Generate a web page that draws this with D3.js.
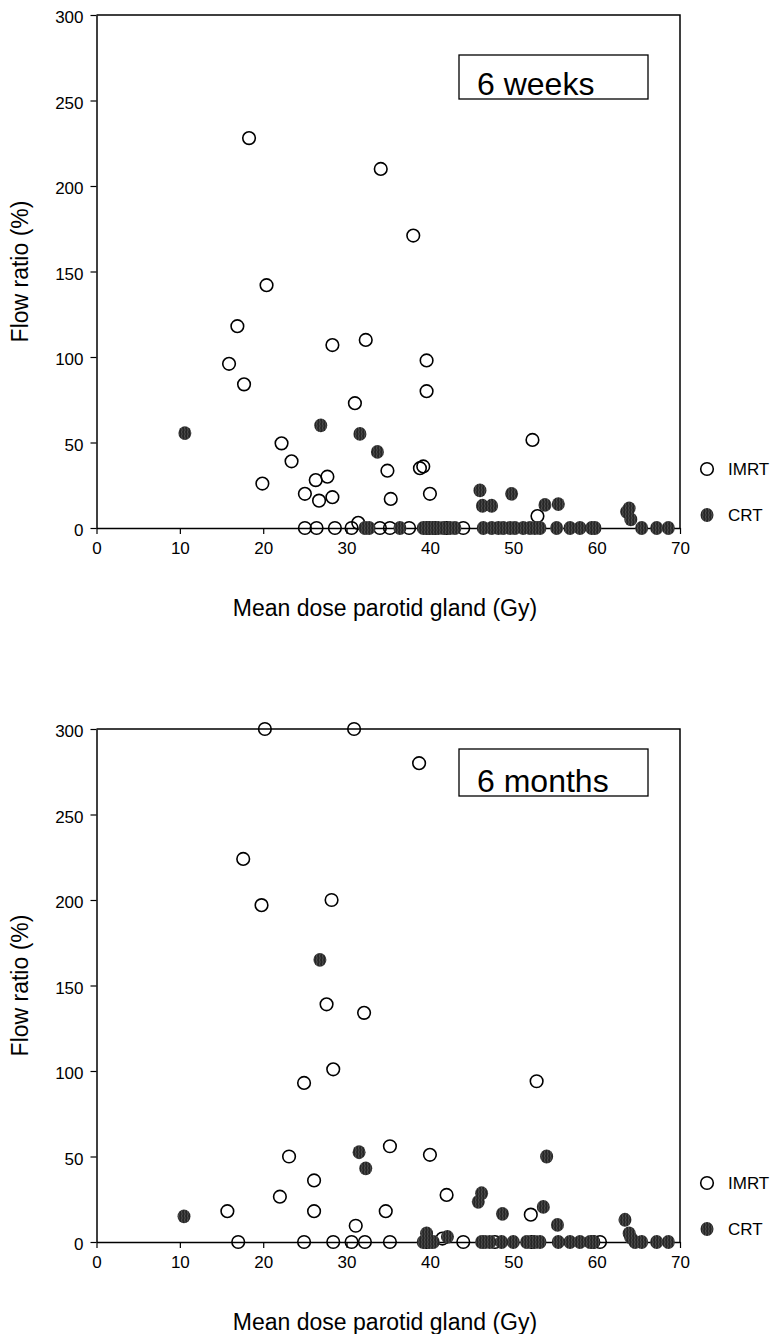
<!DOCTYPE html>
<html>
<head>
<meta charset="utf-8">
<script src="https://cdn.jsdelivr.net/npm/d3@7"></script>
<style>
  html, body { margin: 0; padding: 0; background: #fff; }
  svg { display: block; font-family: "Liberation Sans", Arial, sans-serif; }
</style>
</head>
<body>
<svg id="chart" width="775" height="1334"></svg>
<script>
// ---------- Data ----------
// 6 weeks panel
const weeksImrtDose = [18.3, 34.1, 38.0, 20.4, 16.9, 32.3, 28.3, 39.6, 15.9, 17.7, 39.6, 31.0, 52.3, 22.2,
  23.4, 39.2, 38.8, 34.9, 27.7, 26.3, 19.9, 25.0, 40.0, 28.3, 35.3, 26.7, 52.9, 31.4,
  25.0, 26.4, 28.6, 30.6, 34.0, 35.2, 37.5, 39.8, 40.6, 42.0, 44.0];
const weeksImrtFlow = [228, 210, 171, 142, 118, 110, 107, 98, 96, 84, 80, 73, 51.5, 49.5,
  39, 36, 35, 33.5, 30, 28, 26, 20, 20, 18, 17, 16, 7, 3,
  0, 0, 0, 0, 0, 0, 0, 0, 0, 0, 0];
const weeksCrtDose = [10.6, 26.9, 31.6, 33.7, 46.0, 46.3, 47.4, 49.8, 53.8, 55.4, 63.6, 63.9, 64.1,
  32.2, 32.7, 36.4, 39.2, 39.6, 40.0, 40.4, 41.0, 41.6, 42.4, 43.0, 46.4, 47.4, 48.2, 48.8,
  49.6, 50.2, 51.2, 52.0, 52.6, 53.2, 55.2, 56.8, 58.0, 59.4, 59.8, 65.4, 67.2, 68.6];
const weeksCrtFlow = [55.5, 60, 55, 44.5, 22, 13, 13, 20, 13.5, 14, 9.5, 11.5, 5,
  0, 0, 0, 0, 0, 0, 0, 0, 0, 0, 0, 0, 0, 0, 0,
  0, 0, 0, 0, 0, 0, 0, 0, 0, 0, 0, 0, 0, 0];

// 6 months panel
const monthsImrtDose = [20.2, 30.9, 38.7, 17.6, 19.8, 28.2, 27.6, 32.1, 28.4, 24.9, 52.8, 35.2, 40.0, 23.1,
  26.1, 42.0, 22.0, 15.7, 26.1, 34.7, 52.1, 31.1, 41.5,
  17.0, 24.9, 28.4, 30.6, 32.2, 35.2, 39.6, 44.0, 47.8, 52.2, 59.6, 60.4];
const monthsImrtFlow = [300, 300, 280, 224, 197, 200, 139, 134, 101, 93, 94, 56, 51, 50,
  36, 27.5, 26.5, 18, 18, 18, 16, 9.5, 2,
  0, 0, 0, 0, 0, 0, 0, 0, 0, 0, 0, 0];
const monthsCrtDose = [10.5, 26.8, 31.5, 32.3, 46.2, 45.8, 48.7, 53.6, 54.0, 55.3, 63.4, 39.6, 42.1, 63.9, 64.1,
  39.2, 40.0, 40.4, 46.2, 46.6, 47.2, 48.6, 50.0, 51.6, 52.6, 53.2, 55.4, 56.8, 58.0, 59.2,
  59.6, 64.6, 65.4, 67.2, 68.6];
const monthsCrtFlow = [15, 165, 52.5, 43, 28.5, 23.5, 16.5, 20.5, 50, 10, 13, 5, 3, 5, 2.5,
  0, 0, 0, 0, 0, 0, 0, 0, 0, 0, 0, 0, 0, 0, 0,
  0, 0, 0, 0, 0];

const xTicks = [0, 10, 20, 30, 40, 50, 60, 70];
const yTicks = [0, 50, 100, 150, 200, 250, 300];
const seriesNames = ["IMRT", "CRT"];
const xTitle = "Mean dose parotid gland (Gy)";
const yTitle = "Flow ratio (%)";

const panels = [
  { top: 15, label: "6 weeks", imrt: [weeksImrtDose, weeksImrtFlow], crt: [weeksCrtDose, weeksCrtFlow],
    box: { y0: 40, y1: 84 } },
  { top: 729, label: "6 months", imrt: [monthsImrtDose, monthsImrtFlow], crt: [monthsCrtDose, monthsCrtFlow],
    box: { y0: 20, y1: 67 } }
];

// ---------- Layout ----------
const svg = d3.select("#chart");
const plotLeft = 96.5, plotRight = 680, plotH = 513;

// hatch for the CRT markers
const defs = svg.append("defs");
const pat = defs.append("pattern")
  .attr("id", "hatch")
  .attr("patternUnits", "userSpaceOnUse")
  .attr("width", 3).attr("height", 4);
pat.append("rect").attr("width", 3).attr("height", 4).attr("fill", "#262626");
pat.append("path").attr("d", "M1.5,0 L2.2,2 L1.5,4").attr("stroke", "#5e5e5e").attr("stroke-width", 0.8).attr("fill", "none");

const zip = (a, b) => a.map((v, i) => [v, b[i]]);

function drawPanel(p) {
  const x = d3.scaleLinear().domain([0, 70]).range([plotLeft, plotRight]);
  const y = d3.scaleLinear().domain([0, 300]).range([p.top + plotH, p.top]);
  const g = svg.append("g");

  // frame (top & right)
  g.append("path")
    .attr("d", `M${plotLeft},${p.top} H${plotRight} V${p.top + plotH}`)
    .attr("fill", "none").attr("stroke", "#000").attr("stroke-width", 1.5);

  const ax = g.append("g")
    .attr("transform", `translate(0,${p.top + plotH})`)
    .call(d3.axisBottom(x).tickValues(xTicks).tickSize(6).tickSizeOuter(0).tickPadding(8));
  const ay = g.append("g")
    .attr("transform", `translate(${plotLeft},0)`)
    .call(d3.axisLeft(y).tickValues(yTicks).tickSize(6).tickSizeOuter(0).tickPadding(7));
  [ax, ay].forEach(a => {
    a.select(".domain").attr("stroke", "#000").attr("stroke-width", 1.5);
    a.selectAll(".tick line").attr("stroke", "#000").attr("stroke-width", 1.2);
    a.selectAll("text").attr("font-size", 17).attr("fill", "#000")
      .attr("font-family", "'Liberation Sans', Arial, sans-serif");
  });
  ay.selectAll("text").attr("dy", "0.45em");

  // label box
  g.append("rect")
    .attr("x", 459).attr("y", p.top + p.box.y0)
    .attr("width", 189).attr("height", p.box.y1 - p.box.y0)
    .attr("fill", "#fff").attr("stroke", "#000").attr("stroke-width", 1.3);
  g.append("text")
    .attr("x", 477).attr("y", p.top + p.box.y1 - 4)
    .attr("font-size", 32).text(p.label);

  // IMRT (open) then CRT (hatched) on top
  g.append("g").selectAll("circle")
    .data(zip(...p.imrt)).join("circle")
    .attr("cx", d => x(d[0])).attr("cy", d => y(d[1]))
    .attr("r", 6.3).attr("fill", "none").attr("stroke", "#000").attr("stroke-width", 1.6);
  g.append("g").selectAll("ellipse")
    .data(zip(...p.crt)).join("ellipse")
    .attr("cx", d => x(d[0])).attr("cy", d => y(d[1]))
    .attr("rx", 6.5).attr("ry", 6.9).attr("fill", "url(#hatch)");

  // legend
  const lg = g.append("g").attr("transform", `translate(707,${p.top + 454})`);
  lg.append("circle").attr("r", 6.3).attr("fill", "none").attr("stroke", "#000").attr("stroke-width", 1.6);
  lg.append("text").attr("x", 21).attr("y", 6).attr("font-size", 17).text(seriesNames[0]);
  lg.append("ellipse").attr("cy", 46).attr("rx", 6.5).attr("ry", 6.9).attr("fill", "url(#hatch)");
  lg.append("text").attr("x", 21).attr("y", 52).attr("font-size", 17).text(seriesNames[1]);

  // titles
  g.append("text")
    .attr("x", 385).attr("y", p.top + plotH + 88)
    .attr("text-anchor", "middle").attr("font-size", 23).text(xTitle);
  g.append("text")
    .attr("transform", `translate(28,${p.top + plotH / 2}) rotate(-90)`)
    .attr("text-anchor", "middle").attr("font-size", 23).text(yTitle);
}

panels.forEach(drawPanel);
</script>
</body>
</html>
